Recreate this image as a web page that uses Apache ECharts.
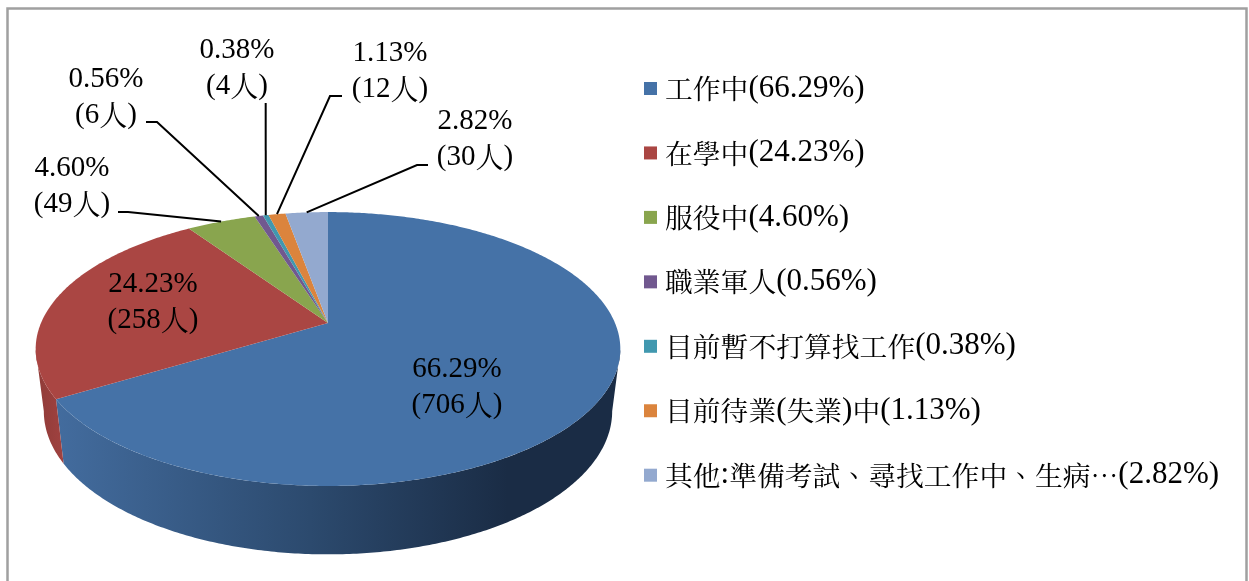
<!DOCTYPE html>
<html lang="zh-Hant">
<head>
<meta charset="utf-8">
<style>html,body{margin:0;padding:0;background:#fff}#c{width:1249px;height:581px}</style>
<script src="https://cdn.jsdelivr.net/npm/echarts@6/dist/echarts.min.js"></script>
</head>
<body>
<div id="c"></div>
<script>
const categories = ['工作中','在學中','服役中','職業軍人','目前暫不打算找工作','目前待業(失業)中','其他:準備考試、尋找工作中、生病…'];
const counts = [706,258,49,6,4,12,30];
const percents = ['66.29','24.23','4.60','0.56','0.38','1.13','2.82'];
const colors = ['#4572A7','#AA4643','#89A54E','#71588F','#4198AF','#DB843D','#93A9CF'];
const wallColors = [
  [[0,'#436c9e'],[0.45,'#2c4a6e'],[0.8,'#1a2c45'],[1,'#1a2c45']],
  [[0,'#8f3b38'],[1,'#a04240']],
  null,null,null,null,null
];
// layout only: label block centres and leader elbows
const labelCentres = [[457,387],[153,302],[72,186],[106,97],[237,68],[390,71],[475,139]];
const leaderElbows = [null,null,[[128,212],[118,212]],[[157,122],[146,122]],[[265.7,103]],[[330,96],[342,96]],[[417,165],[428,165]]];

const CJK = "'Noto Serif CJK TC','Noto Sans CJK TC'";
const LAT = "'Liberation Serif'";
const total = counts.reduce((a,b)=>a+b,0);
// perspective projection of the pie's disc
const top_ = {cx:328, cy:323, rx:287, ry:132};
const bot_ = {cx:328, cy:384, rx:279, ry:138};
const K = -0.19;
function project(ring, theta){
  const u = Math.sin(theta), v = -Math.cos(theta), w = 1 + K*v;
  return [ring.cx + ring.rx*u/w, ring.cy + ring.ry*v/w];
}
const VIS0 = 101*Math.PI/180, VIS1 = 259*Math.PI/180;
function arc(ring,a,b){
  const n = Math.max(2, Math.ceil((b-a)/0.01)), pts=[];
  for(let i=0;i<=n;i++) pts.push(project(ring,a+(b-a)*i/n));
  return pts;
}
function richText(s){
  return s.replace(/[\x00-\x7f]+|[^\x00-\x7f]+/g, m => (/^[\x00-\x7f]/.test(m)?'{l|':'{c|')+m+'}');
}
function renderSlice(idx){
  return function(params, api){
    const start = counts.slice(0,idx).reduce((a,b)=>a+b,0)/total*2*Math.PI;
    const end = start + api.value(0)/total*2*Math.PI;
    const children = [];
    const a = Math.max(start,VIS0), b = Math.min(end,VIS1);
    if (b>a){
      const t = arc(top_,a,b), bt = arc(bot_,a,b).reverse();
      const stops = wallColors[idx] || [[0,colors[idx]],[1,colors[idx]]];
      children.push({type:'polygon',shape:{points:t.concat(bt)},style:{
        fill:new echarts.graphic.LinearGradient(0,0,1,0,stops.map(s=>({offset:s[0],color:s[1]})))}});
    }
    const face = [[top_.cx,top_.cy]].concat(arc(top_,start,end));
    children.push({type:'polygon',shape:{points:face},style:{fill:colors[idx]}});
    const mid = (start+end)/2;
    const elbows = leaderElbows[idx];
    if (elbows){
      children.push({type:'polyline',shape:{points:[project(top_,mid)].concat(elbows)},
        style:{stroke:'#000',lineWidth:2,fill:null}});
    }
    const c = labelCentres[idx];
    children.push({type:'text',x:c[0],y:c[1],z2:10,style:{
      text: richText(percents[idx]+'%')+'\n'+richText('('+counts[idx])+'{c|人}'+'{l|)}',
      align:'center',verticalAlign:'middle',fill:'#000',
      rich:{l:{fontFamily:LAT,fontSize:29,lineHeight:36,fill:'#000'},c:{fontFamily:CJK,fontSize:28,lineHeight:36,fill:'#000'}}
    }});
    return {type:'group',children};
  };
}
const legendNames = categories.map((c,i)=>c+'('+percents[i]+'%)');
const option = {
  animation:false,
  backgroundColor:'#fff',
  graphic:[{type:'polyline',silent:true,shape:{points:[[7.5,581],[7.5,8.5],[1246.5,8.5],[1246.5,581]]},
    style:{stroke:'#a0a0a0',lineWidth:2.5,fill:null}}],
  legend:{
    orient:'vertical',left:644,top:73,padding:0,itemWidth:13,itemHeight:13,itemGap:33.45,icon:'rect',
    selectedMode:false,
    data:legendNames,
    formatter:n=>richText(n),
    textStyle:{padding:[0,0,0,3],rich:{
      l:{fontFamily:LAT,fontSize:31,lineHeight:32,color:'#000'},
      c:{fontFamily:CJK,fontSize:27.8,lineHeight:32,color:'#000'}}}
  },
  series:legendNames.map((n,i)=>({
    type:'custom',name:n,coordinateSystem:'none',
    itemStyle:{color:colors[i]},
    data:[[counts[i]]],
    renderItem:renderSlice(i)
  }))
};
const chart = echarts.init(document.getElementById('c'),null,{renderer:'canvas'});
chart.setOption(option);
</script>
</body>
</html>
